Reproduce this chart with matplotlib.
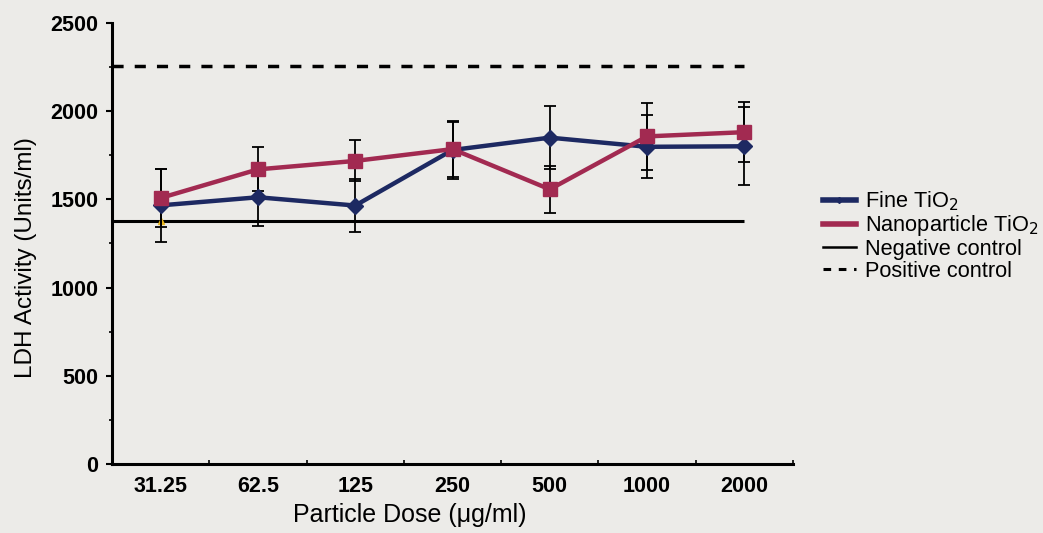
import numpy as np
import matplotlib.pyplot as plt
from matplotlib.lines import Line2D

plt.rcParams['font.family'] = ['Liberation Sans', 'DejaVu Sans']

doses = ['31.25', '62.5', '125', '250', '500', '1000', '2000']
fine_mean = [1466, 1512, 1465, 1780, 1850, 1798, 1801]
fine_err = [205, 163, 148, 164, 178, 178, 220]
nano_mean = [1508, 1670, 1718, 1785, 1557, 1857, 1881]
nano_err = [164, 125, 116, 156, 135, 192, 170]
negative_control = 1378
positive_control = 2256

blue = '#1d2962'
red = '#a22a51'
bg = '#ecebe8'

fig = plt.figure(figsize=(10.43, 5.33), dpi=100, facecolor=bg)
ax = fig.add_axes([0.1074, 0.1295, 0.6529, 0.8274], facecolor=bg)

x = np.arange(len(doses))

# control levels run across the dose range
ax.hlines(negative_control, -0.5, x[-1], color='black', lw=2.2, zorder=2)
ax.hlines(positive_control, -0.5, x[-1], color='black', lw=2.5,
          linestyles=(0, (3.2, 3.2)), zorder=2)
ax.plot(x[0], negative_control, marker='^', color='#e8b51c', ms=5,
        ls='none', zorder=3)

ax.errorbar(x, fine_mean, yerr=fine_err, fmt='none', ecolor='black',
            elinewidth=1.3, capsize=4, capthick=1.3, zorder=3)
ax.errorbar(x, nano_mean, yerr=nano_err, fmt='none', ecolor='black',
            elinewidth=1.3, capsize=4, capthick=1.3, zorder=3)
ax.plot(x, fine_mean, color=blue, lw=3.2, marker='D', ms=8,
        mfc=blue, mec=blue, zorder=4)
ax.plot(x, nano_mean, color=red, lw=3.2, marker='s', ms=10,
        mfc=red, mec=red, zorder=5)

ax.set_xlim(-0.5, len(doses) - 0.5)
ax.set_ylim(0, 2500)
ax.set_yticks(np.arange(0, 2501, 500))
ax.set_yticks(np.arange(0, 2501, 250), minor=True)
ax.set_xticks(x)
ax.set_xticklabels(doses)
ax.set_xticks(np.arange(-0.5, len(doses)), minor=True)

for s in ['top', 'right']:
    ax.spines[s].set_visible(False)
for s in ['left', 'bottom']:
    ax.spines[s].set_linewidth(2.2)

ax.tick_params(axis='y', which='major', length=4, width=1.5, pad=6,
               labelsize=15.5)
ax.tick_params(axis='y', which='minor', length=2, width=1.2)
ax.tick_params(axis='x', which='major', length=0, pad=9, labelsize=15.5)
ax.tick_params(axis='x', which='minor', length=3, width=1.2, direction='in')
for lbl in ax.get_xticklabels() + ax.get_yticklabels():
    lbl.set_fontweight('bold')

ax.set_xlabel('Particle Dose (\u03bcg/ml)', fontsize=18)
ax.xaxis.set_label_coords(0.4376, -0.088)
ax.set_ylabel('LDH Activity (Units/ml)', fontsize=17.5)
ax.yaxis.set_label_coords(-0.110, 0.469)

handles = [
    Line2D([], [], color=blue, lw=4, marker='D', ms=3),
    Line2D([], [], color=red, lw=4),
    Line2D([], [], color='black', lw=1.8),
    Line2D([], [], color='black', lw=2.2, ls=(0, (2.5, 2.5))),
]
labels = ['Fine TiO$_2$', 'Nanoparticle TiO$_2$', 'Negative control',
          'Positive control']
fig.legend(handles, labels, loc='upper left', bbox_to_anchor=(0.789, 0.645),
           frameon=False, fontsize=15.7, handlelength=1.5, handletextpad=0.42,
           labelspacing=0.03, borderpad=0, borderaxespad=0)

fig.savefig('out.png', dpi=100, facecolor=bg)
